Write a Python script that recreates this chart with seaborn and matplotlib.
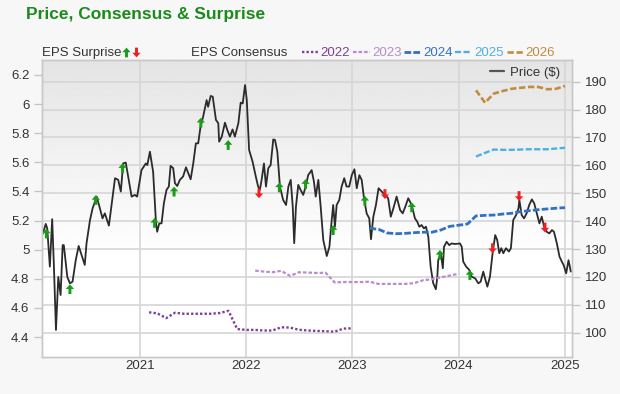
import matplotlib
matplotlib.use('Agg')
import matplotlib.pyplot as plt
import matplotlib.dates as mdates
from matplotlib.lines import Line2D
from matplotlib.path import Path
from matplotlib.legend_handler import HandlerTuple
from matplotlib.ticker import MultipleLocator, FuncFormatter
from matplotlib.colors import LinearSegmentedColormap
import seaborn as sns
import pandas as pd
import numpy as np

# price line (right axis)
price_dates = [
    '2020-02-01', '2020-02-12', '2020-02-17', '2020-02-26', '2020-03-05', '2020-03-11',
    '2020-03-18', '2020-03-26', '2020-04-03', '2020-04-10', '2020-04-14', '2020-04-26',
    '2020-05-05', '2020-05-14', '2020-05-25', '2020-06-04', '2020-06-14', '2020-06-25',
    '2020-07-01', '2020-07-13', '2020-07-22', '2020-08-05', '2020-08-16', '2020-08-25',
    '2020-09-02', '2020-09-16', '2020-09-25', '2020-10-07', '2020-10-18', '2020-10-27',
    '2020-11-04', '2020-11-13', '2020-11-23', '2020-12-03', '2020-12-14', '2020-12-22',
    '2021-01-06', '2021-01-21', '2021-01-26', '2021-02-04', '2021-02-15', '2021-02-25',
    '2021-03-01', '2021-03-08', '2021-03-16', '2021-03-24', '2021-04-02', '2021-04-10',
    '2021-04-16', '2021-04-25', '2021-05-01', '2021-05-09', '2021-05-18', '2021-05-29',
    '2021-06-08', '2021-06-16', '2021-06-24', '2021-07-03', '2021-07-12', '2021-07-20',
    '2021-07-28', '2021-08-06', '2021-08-18', '2021-08-23', '2021-09-01', '2021-09-08',
    '2021-09-19', '2021-09-27', '2021-09-30', '2021-10-09', '2021-10-20', '2021-10-28',
    '2021-11-06', '2021-11-15', '2021-11-23', '2021-12-05', '2021-12-13', '2021-12-20',
    '2021-12-28', '2022-01-03', '2022-01-11', '2022-01-23', '2022-02-03', '2022-02-11',
    '2022-02-17', '2022-02-23', '2022-03-03', '2022-03-10', '2022-03-18', '2022-03-26',
    '2022-04-04', '2022-04-10', '2022-04-18', '2022-04-27', '2022-05-08', '2022-05-18',
    '2022-05-26', '2022-06-03', '2022-06-10', '2022-06-15', '2022-06-21', '2022-06-29',
    '2022-07-07', '2022-07-16', '2022-07-25', '2022-08-02', '2022-08-14', '2022-08-22',
    '2022-08-28', '2022-09-06', '2022-09-14', '2022-09-23', '2022-10-05', '2022-10-14',
    '2022-10-22', '2022-10-27', '2022-11-02', '2022-11-08', '2022-11-17', '2022-11-25',
    '2022-12-04', '2022-12-12', '2022-12-21', '2022-12-30', '2023-01-08', '2023-01-16',
    '2023-01-25', '2023-02-02', '2023-02-10', '2023-02-19', '2023-02-28', '2023-03-06',
    '2023-03-14', '2023-03-23', '2023-04-01', '2023-04-12', '2023-04-23', '2023-05-04',
    '2023-05-13', '2023-05-22', '2023-06-02', '2023-06-14', '2023-06-23', '2023-07-02',
    '2023-07-12', '2023-07-24', '2023-08-04', '2023-08-12', '2023-08-19', '2023-08-27',
    '2023-09-04', '2023-09-11', '2023-09-19', '2023-09-27', '2023-10-06', '2023-10-15',
    '2023-10-20', '2023-10-23', '2023-11-01', '2023-11-08', '2023-11-12', '2023-11-21',
    '2023-11-30', '2023-12-08', '2023-12-20', '2024-01-06', '2024-01-12', '2024-01-17',
    '2024-01-27', '2024-02-07', '2024-02-15', '2024-02-27', '2024-03-09', '2024-03-17',
    '2024-03-26', '2024-04-01', '2024-04-09', '2024-04-18', '2024-04-27', '2024-05-06',
    '2024-05-13', '2024-05-20', '2024-05-27', '2024-06-03', '2024-06-12', '2024-06-22',
    '2024-06-29', '2024-07-07', '2024-07-17', '2024-07-25', '2024-07-28', '2024-08-05',
    '2024-08-13', '2024-08-22', '2024-08-31', '2024-09-09', '2024-09-17', '2024-09-26',
    '2024-10-05', '2024-10-13', '2024-10-21', '2024-10-30', '2024-11-08', '2024-11-17',
    '2024-11-24', '2024-12-04', '2024-12-13', '2024-12-21', '2024-12-27', '2025-01-05',
    '2025-01-13', '2025-01-21',
]
price_values = [
    135.4, 139.0, 137.4, 123.7, 140.7, 123.7,
    101.0, 120.0, 113.5, 131.4, 131.4, 120.0,
    117.7, 118.3, 126.0, 131.1, 127.9, 124.3,
    132.0, 140.4, 144.6, 148.8, 144.6, 141.0,
    142.8, 138.4, 145.8, 155.4, 154.8, 150.6,
    160.7, 161.0, 154.8, 148.8, 149.4, 148.8,
    158.3, 160.7, 160.1, 164.9, 157.7, 139.2,
    136.2, 139.2, 139.2, 146.4, 151.2, 152.4,
    159.8, 159.0, 153.6, 152.6, 154.8, 156.0,
    159.3, 157.2, 155.0, 160.7, 167.9, 167.9,
    173.9, 177.5, 183.4, 181.0, 184.9, 184.6,
    176.3, 175.1, 168.5, 170.3, 175.3, 172.7,
    170.3, 172.9, 170.3, 175.1, 182.5, 182.2,
    188.8, 183.4, 165.5, 161.3, 156.0, 152.4,
    151.2, 154.8, 160.7, 152.4, 159.0, 160.1,
    169.3, 169.1, 164.9, 152.4, 147.6, 145.8,
    152.4, 154.8, 145.2, 132.1, 145.2, 153.0,
    151.2, 149.4, 152.6, 156.5, 158.3, 154.1,
    148.8, 154.8, 145.2, 133.2, 127.5, 130.8,
    140.4, 145.8, 138.0, 145.8, 147.6, 152.4,
    155.4, 152.4, 152.4, 156.5, 158.6, 151.8,
    156.5, 154.8, 148.2, 142.8, 141.0, 133.5,
    141.6, 145.8, 151.8, 150.6, 149.4, 148.2,
    141.6, 144.6, 148.8, 144.0, 142.8, 145.2,
    148.2, 145.8, 141.0, 139.8, 138.0, 138.6,
    137.4, 138.0, 134.4, 123.7, 117.7, 115.6,
    120.0, 126.0, 128.5, 123.1, 130.8, 132.6,
    131.4, 132.0, 131.8, 132.0, 130.8, 125.5,
    123.7, 122.5, 120.1, 119.5, 117.7, 118.3,
    121.9, 119.5, 116.5, 120.1, 128.5, 135.0,
    133.2, 128.5, 130.3, 128.5, 130.3, 129.1,
    130.3, 140.4, 142.2, 144.6, 147.6, 142.2,
    141.0, 142.8, 145.8, 147.8, 146.4, 142.8,
    139.2, 141.6, 138.0, 136.2, 135.6, 136.8,
    136.2, 132.0, 127.3, 125.5, 124.3, 121.3,
    126.0, 121.9,
]

# EPS surprise arrows (placed on the price scale)
beat_dates = ['2020-02-14', '2020-05-05', '2020-08-02', '2020-11-02', '2021-02-20',
              '2021-04-28', '2021-07-29', '2021-10-31', '2022-04-25', '2022-07-24',
              '2022-10-27', '2023-02-13', '2023-07-24', '2023-10-29', '2024-02-09']
beat_prices = [135.6, 115.6, 147.6, 159.0, 139.4, 150.6, 175.3, 167.3, 152.1, 153.3,
               136.8, 147.3, 145.0, 127.9, 120.7]
miss_dates = ['2022-02-14', '2023-04-23', '2024-04-27', '2024-07-27', '2024-10-24']
miss_prices = [150.0, 149.7, 130.3, 149.0, 137.7]

# EPS consensus by fiscal year (left axis), monthly
fy_labels = ['2022', '2023', '2024', '2025', '2026']
fy_start = ['2021-02-01', '2022-02-01', '2023-03-01', '2024-03-01', '2024-03-01']
eps_2022 = [4.57, 4.563, 4.53, 4.567, 4.56, 4.56, 4.56, 4.56, 4.565, 4.58, 4.455,
            4.449, 4.449, 4.445, 4.445, 4.467, 4.465, 4.45, 4.445, 4.442, 4.44, 4.437, 4.458,
            4.46]
eps_2023 = [4.856, 4.85, 4.845, 4.855, 4.82, 4.845, 4.843, 4.84, 4.842, 4.775, 4.778,
            4.778, 4.778, 4.78, 4.765, 4.765, 4.765, 4.765, 4.77, 4.79, 4.797, 4.81, 4.822,
            4.835]
eps_2024 = [5.147, 5.14, 5.115, 5.11, 5.112, 5.117, 5.12, 5.12, 5.135, 5.16,
            5.168, 5.177, 5.232, 5.236, 5.238, 5.245, 5.25, 5.262, 5.268, 5.275, 5.28, 5.285,
            5.289]
eps_2025 = [5.64, 5.665, 5.688, 5.686, 5.686, 5.688, 5.69, 5.69, 5.69, 5.695, 5.70]
eps_2026 = [6.095, 6.01, 6.072, 6.09, 6.105, 6.112, 6.118, 6.118, 6.102, 6.105, 6.125]

fy_colors = ['#7d3f9b', '#b98ccd', '#2f72c4', '#4cb1e1', '#c28c40']
fy_styles = [(0, (1.0, 0.9)), (0, (1.6, 0.9)), (0, (2.4, 0.8)), (0, (2.6, 1.0)), (0, (2.4, 1.0))]
fy_widths = [1.7, 1.6, 2.0, 1.7, 1.9]

sns.set_style('white')
plt.rcParams['font.family'] = ['Liberation Sans', 'DejaVu Sans']

fig = plt.figure(figsize=(6.2, 3.94), dpi=100, facecolor='#f7f7f7')
ax = fig.add_axes([42 / 620, 1 - 357 / 394, 530 / 620, 297 / 394])
ax2 = ax.twinx()

#background fades from grey at the top to white
yy = np.linspace(0, 1, 200)
shade = 1 - np.clip((yy - 0.33) / 0.67, 0, 1) * 0.105
grey_cmap = LinearSegmentedColormap.from_list('bg', ['black', 'white'])
ax.imshow(shade.reshape(-1, 1), extent=[0, 1, 0, 1], transform=ax.transAxes,
          origin='lower', aspect='auto', cmap=grey_cmap, vmin=0, vmax=1, zorder=0)

sns.lineplot(x=pd.to_datetime(price_dates), y=price_values, ax=ax,
             color='#2b2b2b', linewidth=1.3, legend=False, zorder=3)

up_arrow = Path([(0, 1), (0.85, 0.05), (0.3, 0.05), (0.3, -1), (-0.3, -1),
                 (-0.3, 0.05), (-0.85, 0.05), (0, 1)])
down_arrow = Path([(x, -y) for x, y in up_arrow.vertices])

sns.scatterplot(x=pd.to_datetime(beat_dates), y=beat_prices, ax=ax, marker=up_arrow,
                s=50, color='#1a9c1a', edgecolor='none', linewidth=0, zorder=5)
sns.scatterplot(x=pd.to_datetime(miss_dates), y=miss_prices, ax=ax, marker=down_arrow,
                s=50, color='#ee2020', edgecolor='none', linewidth=0, zorder=5)

eps_series = [eps_2022, eps_2023, eps_2024, eps_2025, eps_2026]
for start, vals, col, ls, lw in zip(fy_start, eps_series, fy_colors, fy_styles, fy_widths):
    dates = pd.date_range(start, periods=len(vals), freq='MS')
    sns.lineplot(x=dates, y=vals, ax=ax2, color=col, linestyle=ls, linewidth=lw,
                 legend=False, zorder=3)

# axes limits & ticks
ax.set_xlim(pd.Timestamp('2020-01-30'), pd.Timestamp('2025-01-25'))
ax.set_ylim(91.29, 197.78)
ax2.set_ylim(4.263, 6.303)
ax.xaxis.set_major_locator(mdates.YearLocator())
ax.xaxis.set_major_formatter(mdates.DateFormatter('%Y'))
ax.yaxis.set_major_locator(MultipleLocator(10))
ax2.yaxis.set_major_locator(MultipleLocator(0.2))
ax2.yaxis.set_major_formatter(FuncFormatter(lambda v, p: f'{v:g}'))

ax.yaxis.tick_right()
ax2.yaxis.tick_left()
ax.tick_params(axis='y', length=6, width=1, color='#c4c4c4', pad=3,
               labelsize=9.5, labelcolor='#333333')
ax2.tick_params(axis='y', length=6, width=1, color='#c4c4c4', pad=3,
                labelsize=9.5, labelcolor='#333333')
ax.tick_params(axis='x', length=0, pad=2, labelsize=9.5, labelcolor='#333333')

ax.grid(True, color='#d6d6d6', linewidth=1.2)
ax.set_axisbelow(True)
ax2.grid(False)
for a in (ax, ax2):
    a.set_xlabel('')
    a.set_ylabel('')
    for sp in a.spines.values():
        sp.set_color('#c8c8c8')
        sp.set_linewidth(1)

# price legend inside the plot
price_handle = Line2D([], [], color='#555555', linewidth=1.6)
ax.legend([price_handle], ['Price ($)'], loc='center right',
          bbox_to_anchor=(0.978, 0.957), frameon=False, fontsize=9.5,
          handlelength=1.0, handletextpad=0.5, borderpad=0, borderaxespad=0,
          labelcolor='#333333')

# header row: surprise arrows and consensus years
title = fig.text(26 / 620, 1 - 19.3 / 394, 'Price, Consensus & Surprise', fontsize=12.5,
                 fontweight='bold', color='#1c8a1c', va='baseline')

beat_h = Line2D([], [], marker=up_arrow, color='#1a9c1a', markersize=7, linestyle='None',
                markeredgewidth=0)
miss_h = Line2D([], [], marker=down_arrow, color='#ee2020', markersize=7, linestyle='None',
                markeredgewidth=0)
fig.legend([(beat_h, miss_h)], ['EPS Surprise'], loc='center left',
           bbox_to_anchor=(41.5 / 620, 1 - 53.3 / 394), frameon=False, fontsize=9.5,
           markerfirst=False, handlelength=1.45, handletextpad=0.05, borderpad=0,
           borderaxespad=0, labelcolor='#333333',
           handler_map={tuple: HandlerTuple(ndivide=None, pad=0)})

fig.text(191 / 620, 1 - 53.3 / 394, 'EPS Consensus', fontsize=9.5, color='#333333',
         va='center')

fy_handles = [Line2D([], [], color=c, linestyle=ls, linewidth=lw)
              for c, ls, lw in zip(fy_colors, fy_styles, fy_widths)]
leg = fig.legend(fy_handles, fy_labels, loc='center left', ncol=5,
                 bbox_to_anchor=(301.5 / 620, 1 - 53.3 / 394), frameon=False, fontsize=9.5,
                 handlelength=1.27, handletextpad=0.18, columnspacing=0.2, borderpad=0,
                 borderaxespad=0)
for txt, c in zip(leg.get_texts(), fy_colors):
    txt.set_color(c)

fig.savefig('out.png', dpi=100, facecolor=fig.get_facecolor())
